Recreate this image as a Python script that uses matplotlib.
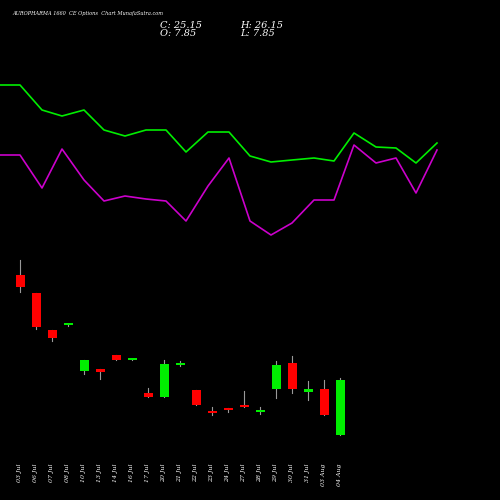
import matplotlib
matplotlib.use("Agg")
import matplotlib.pyplot as plt

dates = ["03 Jul", "06 Jul", "07 Jul", "08 Jul", "10 Jul", "13 Jul", "14 Jul", "16 Jul",
         "17 Jul", "20 Jul", "21 Jul", "22 Jul", "23 Jul", "24 Jul", "27 Jul", "28 Jul",
         "29 Jul", "30 Jul", "31 Jul", "03 Aug", "04 Aug"]
# candle values in chart units (higher = up)
opens = [225, 207, 170, 175, 129, 131, 145, 140, 107, 103, 135, 110, 89, 92, 94, 88, 111, 137, 108, 111, 65]
closes = [213, 173, 162, 176, 140, 128, 140, 141, 103, 136, 137, 95, 87, 90, 93, 89, 135, 111, 111, 85, 120]
highs = [240, 207, 170, 176, 140, 131, 145, 141, 112, 140, 139, 110, 93, 92, 109, 93, 139, 144, 119, 120, 122]
lows = [208, 171, 159, 174, 126, 121, 140, 140, 103, 103, 134, 95, 85, 88, 93, 86, 102, 107, 100, 85, 65]

line_x = [0, 20, 42, 62, 84, 104, 125, 146, 166, 186, 208, 229, 250, 271, 292, 314, 334, 354, 376, 396, 416, 437]
green_line = [415, 415, 390, 384, 390, 370, 364, 370, 370, 348, 368, 368, 344, 338, 340, 342, 339, 367, 353, 352, 337, 357]
purple_line = [345, 345, 312, 351, 320, 299, 304, 301, 299, 279, 314, 342, 279, 265, 277, 300, 300, 355, 337, 342, 307, 350]

fig = plt.figure(figsize=(5, 5), dpi=100, facecolor="black")
ax = fig.add_axes([0, 0, 1, 1])
ax.set_facecolor("black")
ax.set_xlim(0, 500)
ax.set_ylim(0, 500)
ax.axis("off")

ax.plot(line_x, green_line, color="#00ee00", lw=1.2)
ax.plot(line_x, purple_line, color="#cc00cc", lw=1.2)

for i, (o, c, h, l) in enumerate(zip(opens, closes, highs, lows)):
    x = 20 + 16 * i
    col = "#00ee00" if c >= o else "#ff0000"
    ax.plot([x, x], [l, h], color="#999999", lw=0.8, zorder=1)
    ax.bar(x, max(abs(c - o), 2), bottom=min(o, c), width=9, color=col, zorder=2)
    ax.text(x, 37, dates[i], rotation=90, color="white", fontsize=4.5,
            family="DejaVu Serif", style="italic", ha="center", va="top")

fig.text(0.024, 0.97, "AUROPHARMA 1660  CE Options  Chart MunafaSutra.com", color="white",
         fontsize=3.6, family="DejaVu Serif", style="italic")
fig.text(0.32, 0.944, "C: 25.15", color="white", fontsize=7, family="DejaVu Serif", style="italic")
fig.text(0.48, 0.944, "H: 26.15", color="white", fontsize=7, family="DejaVu Serif", style="italic")
fig.text(0.32, 0.928, "O: 7.85", color="white", fontsize=7, family="DejaVu Serif", style="italic")
fig.text(0.48, 0.928, "L: 7.85", color="white", fontsize=7, family="DejaVu Serif", style="italic")

fig.savefig("out.png", dpi=100, facecolor="black")
